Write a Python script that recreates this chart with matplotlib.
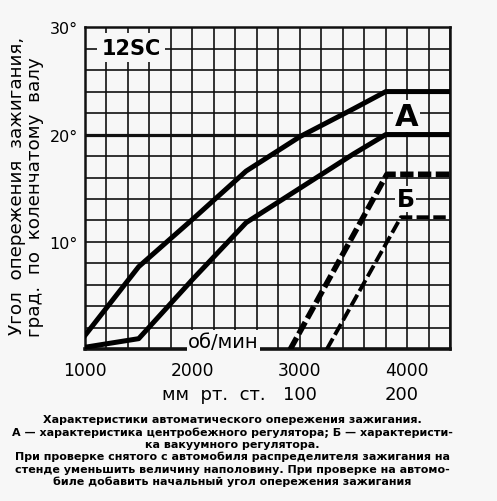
import numpy as np
import matplotlib
matplotlib.use("Agg")
import matplotlib.pyplot as plt

# обороты коленчатого вала, об/мин, и угол опережения, град
# А - центробежный регулятор (две граничные кривые)
rpm_a_hi = [1000, 1500, 2000, 2500, 3000, 3500, 3800, 4400]
deg_a_hi = [1.3, 7.7, 12.1, 16.6, 19.8, 22.4, 24.0, 24.0]
rpm_a_lo = [1000, 1500, 2000, 2500, 3000, 3500, 3800, 4400]
deg_a_lo = [0.2, 1.0, 6.5, 11.8, 15.0, 18.2, 20.0, 20.0]

# Б - вакуумный регулятор (пунктир)
rpm_b_hi = [2910, 3810, 4400]
deg_b_hi = [0.0, 16.3, 16.3]
rpm_b_lo = [3250, 3940, 4400]
deg_b_lo = [0.0, 12.3, 12.3]

x_ticks = [1000, 2000, 3000, 4000]
y_ticks = [10, 20, 30]
y_labels = ['10°', '20°', '30°']
vac_labels = ['100', '200']
vac_pos = [3000, 3950]

caption = [
    'Характеристики автоматического опережения зажигания.',
    'А — характеристика центробежного регулятора; Б — характеристи-',
    'ка вакуумного регулятора.',
    'При проверке снятого с автомобиля распределителя зажигания на',
    'стенде уменьшить величину наполовину. При проверке на автомо-',
    'биле добавить начальный угол опережения зажигания',
]

bg = '#f7f7f7'
plt.rcParams['font.family'] = ['DejaVu Sans']

fig = plt.figure(figsize=(4.97, 5.02), dpi=100, facecolor=bg)
ax = fig.add_axes([0.171, 0.302, 0.735, 0.642])
ax.set_facecolor(bg)

ax.set_xlim(1000, 4400)
ax.set_ylim(0, 30)
ax.set_xticks(x_ticks)
ax.set_xticklabels([str(v) for v in x_ticks], fontsize=12.3)
ax.set_xticks(np.arange(1000, 4401, 200), minor=True)
ax.set_yticks(y_ticks)
ax.set_yticklabels(y_labels, fontsize=11.5)
ax.set_yticks(np.arange(0, 31, 2), minor=True)
ax.tick_params(which='both', length=0)
ax.tick_params(axis='x', pad=8)
ax.tick_params(axis='y', pad=5)
ax.grid(which='both', color='#111111', lw=1.2)
ax.set_axisbelow(True)
ax.axhline(20, color='#111111', lw=2.3, zorder=1)
for s in ax.spines.values():
    s.set_linewidth(1.8)
    s.set_color('#111111')
ax.spines['bottom'].set_linewidth(2.6)

ax.plot(rpm_a_hi, deg_a_hi, color='black', lw=3.6, solid_joinstyle='round', zorder=3)
ax.plot(rpm_a_lo, deg_a_lo, color='black', lw=3.6, solid_joinstyle='round', zorder=3)
ax.plot(rpm_b_hi, deg_b_hi, color='black', lw=4.0, linestyle=(0, (2.4, 0.8)), zorder=3)
ax.plot(rpm_b_lo, deg_b_lo, color='black', lw=2.8, linestyle=(0, (3.2, 1.1)), zorder=3)

box = dict(facecolor=bg, edgecolor='none', pad=3)
ax.text(1430, 28.1, '12SC', fontsize=15, fontweight='bold', ha='center', va='center',
        bbox=box, zorder=4)
ax.text(3990, 21.7, 'А', fontsize=22, fontweight='bold', ha='center', va='center',
        bbox=dict(facecolor=bg, edgecolor='none', pad=1), zorder=4)
ax.text(3985, 14.0, 'Б', fontsize=17, fontweight='bold', ha='center', va='center',
        bbox=dict(facecolor=bg, edgecolor='none', pad=1), zorder=4)
ax.text(2290, 0.75, 'об/мин', fontsize=14, ha='center', va='center',
        bbox=dict(facecolor=bg, edgecolor='none', pad=1), zorder=4)

xt = ax.get_xaxis_transform()
ax.text(2195, -0.138, 'мм  рт.  ст.', fontsize=13, ha='center', va='center', transform=xt)
for v, p in zip(vac_labels, vac_pos):
    ax.text(p, -0.138, v, fontsize=13, ha='center', va='center', transform=xt)

fig.text(0.034, 0.629, 'Угол  опережения  зажигания,', fontsize=13.2, rotation=90,
         ha='center', va='center')
fig.text(0.071, 0.607, 'град.  по  коленчатому  валу', fontsize=13.2, rotation=90,
         ha='center', va='center')

y0 = 502 - 420
for i, line in enumerate(caption):
    fig.text(0.468, (y0 - i * 12.4) / 502, line, fontsize=8.0, fontweight='bold',
             ha='center', va='center')

fig.savefig('out.png', dpi=100, facecolor=bg)
